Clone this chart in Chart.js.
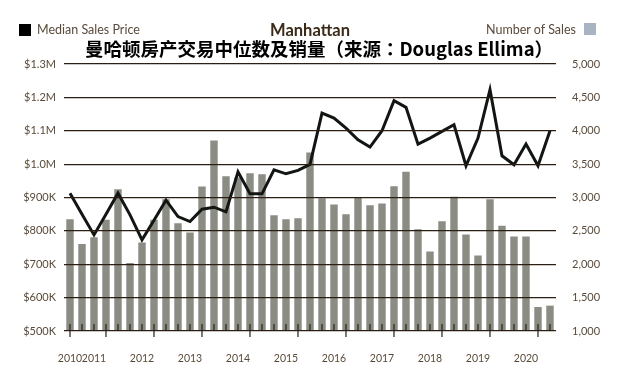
<!DOCTYPE html>
<html>
<head>
<meta charset="utf-8">
<script src="https://cdn.jsdelivr.net/npm/chart.js@4.4.0/dist/chart.umd.min.js"></script>
<style>
  body { margin: 0; background: #fff; }
  #wrap { position: relative; width: 623px; height: 370px; }
  #wrap canvas { position: absolute; left: 0; top: 0; }
  .txt { position: absolute; white-space: nowrap; font-family: Lato, 'Open Sans', sans-serif; color: #5a4a3a; font-size: 12.5px; line-height: 14px; }
  .box { position: absolute; width: 12px; height: 12px; }
</style>
</head>
<body>
<div id="wrap">
  <canvas id="chart" width="623" height="370"></canvas>
  <div class="box" style="left:19px;top:24px;background:#000;"></div>
  <div class="txt" style="left:37px;top:23px;">Median Sales Price</div>
  <div class="txt" style="left:310px;top:21px;transform:translateX(-50%);font-size:16.5px;line-height:18px;font-weight:bold;color:#3b2a18;">Manhattan</div>
  <div class="txt" style="right:47px;top:23px;">Number of Sales</div>
  <div class="box" style="left:584px;top:23px;background:#a9b4c2;"></div>
  <div class="txt" style="left:319px;top:36px;transform:translateX(-50%);font-family:'Noto Sans CJK KR','Noto Sans CJK SC',sans-serif;font-size:18.5px;line-height:24px;font-weight:bold;color:#000;">曼哈顿房产交易中位数及销量（来源：Douglas Ellima）</div>
</div>
<script>
// 四半期ごと 2010 Q1 - 2020 Q1
const quarters = [];
for (let y = 2010; y <= 2020; y++) {
    for (let q = 1; q <= 4; q++) {
        if (quarters.length < 41) quarters.push(y + ' Q' + q);
    }
}

const xTickLabels = ['2010', '', '2011', '', '', '', '2012', '', '', '', '2013', '', '', '', '2014', '', '', '',
    '2015', '', '', '', '2016', '', '', '', '2017', '', '', '', '2018', '', '', '', '2019', '', '', '', '2020', '', ''];

const salesCount = [2675, 2305, 2405, 2665, 3125, 2020, 2325, 2665, 2975, 2615,
    2475, 3165, 3855, 3320, 3300, 3365, 3350, 2735, 2675, 2690,
    3675, 2990, 2895, 2750, 3005, 2885, 2910, 3170, 3385, 2525,
    2190, 2645, 3010, 2445, 2130, 2975, 2575, 2415, 2415, 1360, 1380];

const medianPrice = [913, 850, 788, 850, 913, 848, 773, 832, 892, 843,
    828, 865, 871, 857, 977, 911, 911, 983, 971, 981,
    999, 1153, 1138, 1108, 1073, 1051, 1100, 1190, 1170, 1060,
    1078, 1098, 1118, 995, 1078, 1223, 1025, 998, 1060, 995, 1100].map(v => v * 1000);

const majorTickIdx = [0, 3, 7, 11, 15, 19, 23, 27, 31, 35, 39];

const textColor = '#5a4a3a';
const gridColor = '#2a1f12';
const tickFont = { family: "Lato, 'Open Sans', sans-serif", size: 11 };

// x軸の目盛り線を描く
const tickMarks = {
    id: 'tickMarks',
    afterDraw(chart) {
        const ctx = chart.ctx;
        const xs = chart.scales.x;
        const bottom = chart.chartArea.bottom;
        ctx.save();
        ctx.strokeStyle = gridColor;
        ctx.lineWidth = 1.2;
        quarters.forEach((q, i) => {
            const x = Math.round(xs.getPixelForValue(i));
            ctx.beginPath();
            ctx.moveTo(x, bottom - 7);
            ctx.lineTo(x, majorTickIdx.includes(i) ? bottom + 6 : bottom);
            ctx.stroke();
        });
        ctx.restore();
    }
};

new Chart(document.getElementById('chart').getContext('2d'), {
    data: {
        labels: quarters,
        datasets: [
            {
                type: 'line',
                label: 'Median Sales Price',
                data: medianPrice,
                yAxisID: 'yPrice',
                borderColor: '#121612',
                borderWidth: 3,
                pointRadius: 0,
                tension: 0,
                order: 0
            },
            {
                type: 'bar',
                label: 'Number of Sales',
                data: salesCount,
                yAxisID: 'ySales',
                backgroundColor: '#8b8d85',
                barPercentage: 0.62,
                categoryPercentage: 1,
                order: 1
            }
        ]
    },
    options: {
        responsive: false,
        animation: false,
        devicePixelRatio: 1,
        layout: { padding: { top: 64, left: 0, right: 0, bottom: 0 } },
        plugins: {
            legend: { display: false },
            tooltip: { enabled: false }
        },
        scales: {
            x: {
                offset: true,
                grid: { display: false },
                border: { display: false },
                ticks: {
                    autoSkip: false,
                    maxRotation: 0,
                    padding: 13,
                    color: textColor,
                    font: { family: "Lato, 'Open Sans', sans-serif", size: 10.5 },
                    callback: (v, i) => xTickLabels[i]
                },
                afterFit: s => { s.height = 39; }
            },
            yPrice: {
                position: 'left',
                min: 500000,
                max: 1300000,
                grid: { color: gridColor, lineWidth: 1.2, drawTicks: false, z: 1 },
                border: { display: false },
                ticks: {
                    stepSize: 100000,
                    padding: 8,
                    color: textColor,
                    font: tickFont,
                    callback: v => v >= 1000000 ? '$' + (v / 1000000).toFixed(1) + 'M' : '$' + (v / 1000) + 'K'
                },
                afterFit: s => { s.width = 64; }
            },
            ySales: {
                position: 'right',
                min: 1000,
                max: 5000,
                grid: { display: false },
                border: { display: false },
                ticks: {
                    stepSize: 500,
                    padding: 8,
                    color: textColor,
                    font: tickFont,
                    callback: v => v.toLocaleString('en-US')
                },
                afterFit: s => { s.width = 67; }
            }
        }
    },
    plugins: [tickMarks]
});
</script>
</body>
</html>
